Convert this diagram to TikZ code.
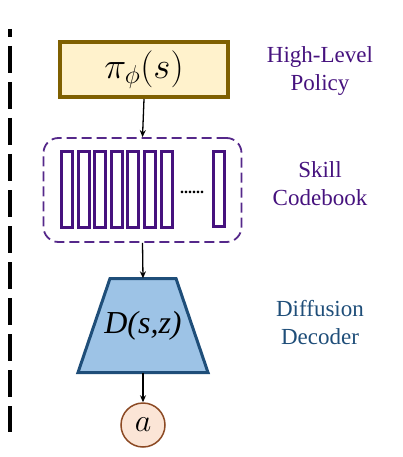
\RequirePackage{fix-cm}
\documentclass[tikz,border=0pt]{standalone}
\usepackage{fontspec}
\setmainfont{Liberation Serif}
\usepackage{tikz}
\usetikzlibrary{shapes.geometric, positioning, arrows.meta}

\definecolor{policyedge}{HTML}{7F6000}
\definecolor{policyfill}{HTML}{FFF2CC}
\definecolor{codepurple}{HTML}{46127E}
\definecolor{codedash}{HTML}{55288A}
\definecolor{decedge}{HTML}{1F4E79}
\definecolor{decfill}{HTML}{9DC3E6}
\definecolor{actedge}{HTML}{8C4A24}
\definecolor{actfill}{HTML}{FBE5D6}

\tikzset{
    flow/.style={-{Stealth[length=7pt, width=6pt]}, line width=1.3pt},
    codebar/.style={draw=codepurple, line width=3pt, minimum width=11pt,
        minimum height=76pt, inner sep=0pt},
    sidelabel/.style={align=center, font=\fontsize{23}{28}\selectfont},
}

\begin{document}
\begin{tikzpicture}[x=1pt, y=-1pt]

    \useasboundingbox (0,0) rectangle (403,457);

    % =================================================================
    % ĐƯỜNG NÉT ĐỨT BÊN TRÁI
    % =================================================================
    \coordinate (T) at (10,29);
    \coordinate (U) at (10,432);
    \draw[line width=4pt, dash pattern=on 27pt off 9pt, dash phase=19pt] (T) -- (U);

    % =================================================================
    % CHÍNH SÁCH CẤP CAO
    % =================================================================
    \node[draw=policyedge, fill=policyfill, line width=4pt, minimum width=168pt,
          minimum height=55pt, inner sep=0pt, font=\fontsize{37}{37}\selectfont]
          (policy) at (144,69.5) {$\pi_{\phi}(s)$};
    \node[sidelabel, text=codepurple] (policylab) at (320,71) {High-Level\\Policy};

    % =================================================================
    % BẢNG MÃ KỸ NĂNG
    % =================================================================
    \node[draw=codedash, dash pattern=on 10pt off 5pt, line width=1.8pt,
          rounded corners=15pt, minimum width=198pt, minimum height=104pt]
          (codebook) at (142.5,190) {};

    % 7 thanh mã liền nhau
    \foreach \i in {0,...,6}{
        \node[codebar] (bar\i) at ({67+16.6*\i},189.5) {};
    }
    % thanh mã cuối cùng
    \node[codebar, minimum height=75pt] (barN) at (218.5,189) {};
    % dấu chấm
    \node[font=\bfseries\fontsize{16}{16}\selectfont, inner sep=0pt] (dots) at (192,192) {......};

    \node[sidelabel, text=codepurple] (codelab) at (320,184) {Skill\\Codebook};

    % =================================================================
    % BỘ GIẢI MÃ KHUẾCH TÁN
    % =================================================================
    % hình thang
    \fill[decfill, draw=decedge, line width=3pt, line join=miter]
        (110,278.5) -- (176,278.5) -- (208,372.5) -- (78,372.5) -- cycle;
    \node[minimum height=94pt, inner sep=0pt, font=\itshape\fontsize{32}{32}\selectfont]
          (decoder) at (143,325.5) {D(s,z)};
    \node[sidelabel, text=decedge] (declab) at (320,323) {Diffusion\\Decoder};

    % =================================================================
    % HÀNH ĐỘNG
    % =================================================================
    \node[circle, draw=actedge, fill=actfill, line width=1.5pt, minimum size=44pt,
          inner sep=0pt, font=\fontsize{32}{32}\selectfont]
          (act) at (143,425) {$a$};

    % Các mũi tên
    \draw[flow] (policy.south) -- (codebook.north);
    \draw[flow] (codebook.south) -- (decoder.north);
    \draw[flow] (decoder.south) -- (act.north);

\end{tikzpicture}
\end{document}
